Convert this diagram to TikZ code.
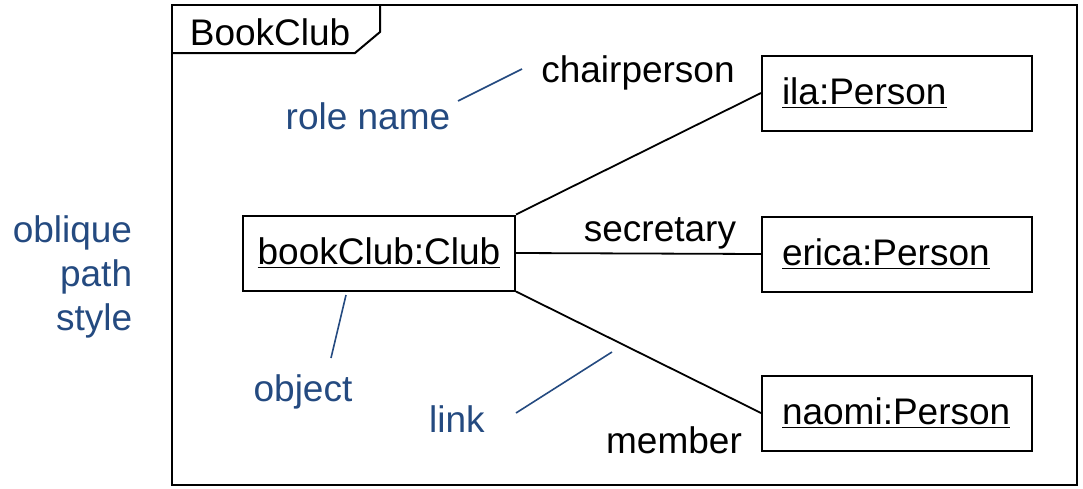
\documentclass[tikz,border=0pt]{standalone}
\usepackage{fontspec}
\setmainfont{Liberation Sans}
\usetikzlibrary{positioning}
\definecolor{noteblue}{RGB}{36,74,128}

\begin{document}
\begin{tikzpicture}[x=0.5pt,y=-0.5pt,line width=0.9pt,font=\fontsize{18.5}{22}\selectfont]
	\tikzset{obj/.style={draw,line width=1pt,minimum width=135pt,minimum height=37.5pt,inner sep=0pt},
		person/.style={obj,text width=115pt,align=left,inner xsep=10pt},
		note/.style={text=noteblue},
		noteline/.style={draw=noteblue,line width=0.8pt}}
	\useasboundingbox (0,0) rectangle (1083,488);
	% frame
	\draw[line width=1pt] (172,5) rectangle (1077,485);
	\draw[line width=1pt] (172,53) -- (355,53) -- (380,32) -- (380,5);
	\node[anchor=west, inner sep=0pt] (frame) at (189,32) {BookClub};
	% objects
	\node[obj, minimum width=136pt] (club) at (379,253) {\underline{bookClub:Club}};
	\node[person] (ila) at (897,93) {\underline{ila:Person}};
	\node[person] (erica) at (897,254) {\underline{erica:Person}};
	\node[person] (naomi) at (897,413) {\underline{naomi:Person}};
	% links
	\path
		(club.north east)
			edge (ila.west)
		(club.east)
			edge (erica.west)
		(club.south east)
			edge (naomi.west);
	\node (chair) at (638,73) {chairperson};
	\node (secr) at (660,233) {secretary};
	\node (memb) at (674,440) {member};
	% notes
	\node[note] (role) at (368,116) {role name};
	\node[note] (objnote) at (303,392) {object};
	\node[note] (linknote) at (457,419) {link};
	\node[note, align=right, anchor=east, inner sep=0pt] (oblique) at (133,277) {oblique\\path\\style};
	\coordinate (r1) at (458,101);
	\coordinate (r2) at (522,69);
	\coordinate (o1) at (346,295);
	\coordinate (o2) at (331,358);
	\coordinate (l1) at (516,413);
	\coordinate (l2) at (612,352);
	\draw[noteline] (r1) -- (r2);
	\draw[noteline] (o1) -- (o2);
	\draw[noteline] (l1) -- (l2);
\end{tikzpicture}
\end{document}
